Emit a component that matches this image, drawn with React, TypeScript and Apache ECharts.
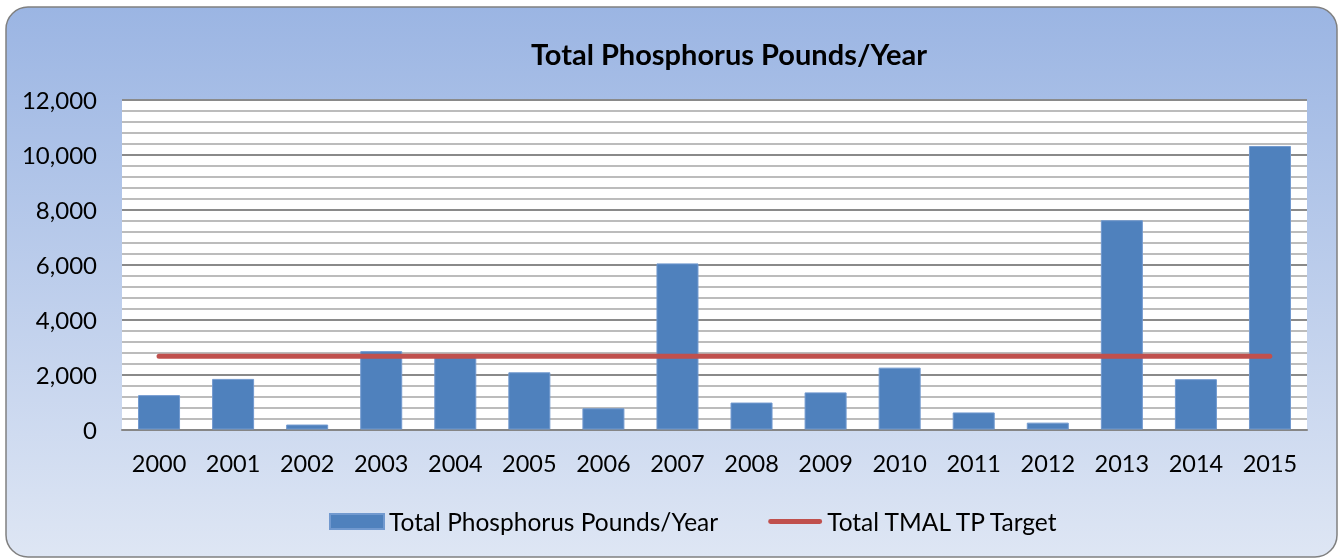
import React, { useEffect, useRef } from "react";
import * as echarts from "echarts";

const years = ["2000","2001","2002","2003","2004","2005","2006","2007","2008","2009","2010","2011","2012","2013","2014","2015"];
const phosphorus = [1250, 1840, 180, 2850, 2700, 2080, 770, 6040, 980, 1350, 2250, 620, 250, 7610, 1830, 10310];
const tpTarget = [2665, 2665, 2665, 2665, 2665, 2665, 2665, 2665, 2665, 2665, 2665, 2665, 2665, 2665, 2665, 2665];
const yTicks = { min: 0, max: 12000, interval: 2000, minorSplits: 5 };

const FONT = "Lato, 'Open Sans', sans-serif";

export default function App() {
  const ref = useRef<HTMLDivElement>(null);
  useEffect(() => {
    if (!ref.current) return;
    const chart = echarts.init(ref.current, null, { renderer: "svg" });
    chart.setOption({
      animation: false,
      graphic: [
        {
          type: "rect",
          z: -10,
          shape: { x: 6, y: 7, width: 1331, height: 550, r: 22 },
          style: {
            fill: new echarts.graphic.LinearGradient(0, 0, 0, 1, [
              { offset: 0, color: "#9bb5e3" },
              { offset: 1, color: "#dee6f4" },
            ]),
            stroke: "#808080",
            lineWidth: 1.5,
          },
        },
      ],
      title: {
        text: "Total Phosphorus Pounds/Year",
        left: 724,
        textAlign: "center",
        top: 34,
        textStyle: { fontFamily: FONT, fontWeight: "bold", fontSize: 29, color: "#000" },
      },
      legend: {
        left: 324,
        top: 504,
        itemWidth: 54,
        itemHeight: 15,
        itemGap: 50,
        textStyle: { fontFamily: FONT, fontSize: 24.5, color: "#000" },
        data: [
          { name: "Total Phosphorus Pounds/Year", icon: "rect" },
          {
            name: "Total TMAL TP Target",
            icon: "path://M2.5,0 H53.5 A2.5,2.5 0 0 1 53.5,5 H2.5 A2.5,2.5 0 0 1 2.5,0 Z",
            itemStyle: { color: "#c0504d" },
          },
        ],
      },
      grid: { left: 122, right: 33, top: 99.5, height: 330, backgroundColor: "#fff", show: true, borderWidth: 0 },
      xAxis: {
        type: "category",
        data: years,
        axisLine: { lineStyle: { color: "#868686", width: 2 } },
        axisTick: { show: false },
        axisLabel: { fontFamily: FONT, fontSize: 23.5, color: "#000", margin: 21 },
      },
      yAxis: {
        type: "value",
        min: yTicks.min,
        max: yTicks.max,
        interval: yTicks.interval,
        axisLine: { show: false },
        axisTick: { show: false },
        axisLabel: {
          fontFamily: FONT,
          fontSize: 24,
          color: "#000",
          margin: 25,
          formatter: (v: number) => v.toLocaleString("en-US"),
        },
        splitLine: { lineStyle: { color: "#8a8a8a", width: 2 } },
        minorTick: { show: false, splitNumber: yTicks.minorSplits },
        minorSplitLine: { show: true, lineStyle: { color: "#bcbcbc", width: 2 } },
      },
      series: [
        {
          name: "Total Phosphorus Pounds/Year",
          type: "bar",
          data: phosphorus,
          barWidth: 42,
          itemStyle: { color: "#4f81bd", borderColor: "#7199cf", borderWidth: 1 },
          z: 2,
        },
        {
          name: "Total TMAL TP Target",
          type: "line",
          data: tpTarget,
          symbol: "none",
          lineStyle: { color: "#c0504d", width: 5, cap: "round" },
          itemStyle: { color: "#c0504d" },
          z: 3,
        },
      ],
    });
    return () => chart.dispose();
  }, []);
  return <div ref={ref} style={{ position: "fixed", left: 0, top: 0, width: 1340, height: 559 }} />;
}
